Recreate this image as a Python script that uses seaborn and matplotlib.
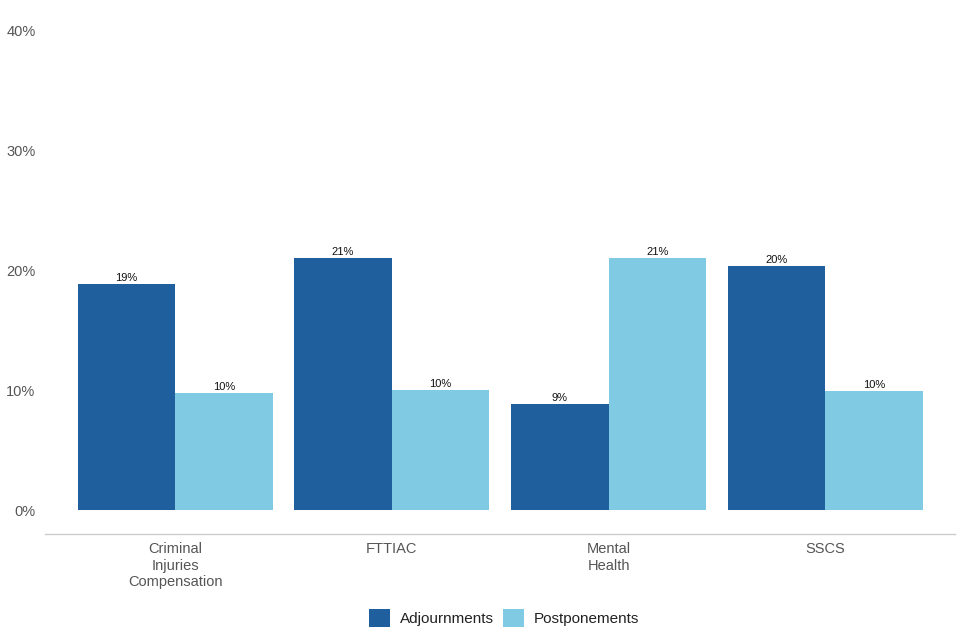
import pandas as pd
import numpy as np
import matplotlib.pyplot as plt
import seaborn as sns

# Values (percent)
categories = ['Criminal\nInjuries\nCompensation', 'FTTIAC', 'Mental\nHealth', 'SSCS']
adjournments = [18.8, 21.0, 8.8, 20.3]
postponements = [9.75, 10.0, 21.0, 9.9]
series = ['Adjournments', 'Postponements']
colors = ['#1F5F9E', '#80CAE3']

df = pd.DataFrame({
    'category': categories * 2,
    'value': adjournments + postponements,
    'series': [series[0]] * 4 + [series[1]] * 4,
})

sns.set_theme(style='white')
plt.rcParams['font.family'] = ['Liberation Sans', 'DejaVu Sans']

fig = plt.figure(figsize=(9.6, 6.4), dpi=100)
ax = fig.add_axes([0.047, 0.1656, 0.948, 0.7875])

sns.barplot(data=df, x='category', y='value', hue='series', palette=colors,
            width=0.9, gap=0, saturation=1, ax=ax, errorbar=None, linewidth=0)

# Bar labels
for cont in ax.containers:
    labels = [f'{round(b.get_height()):.0f}%' for b in cont]
    ax.bar_label(cont, labels=labels, padding=1, fontsize=8, color='#111111')

ax.set_ylim(-2, 40)
ax.set_xlim(-0.6, 3.6)
ax.set_yticks([0, 10, 20, 30, 40])
ax.set_yticklabels(['0%', '10%', '20%', '30%', '40%'])
ax.tick_params(axis='y', length=0, pad=7, labelsize=10.5, labelcolor='#555555')
ax.tick_params(axis='x', length=0, pad=6, labelsize=10.5, labelcolor='#555555')
ax.set_xlabel('')
ax.set_ylabel('')

for s in ['top', 'right', 'left']:
    ax.spines[s].set_visible(False)
ax.spines['bottom'].set_color('#cccccc')
ax.spines['bottom'].set_linewidth(1)

ax.legend(loc='upper center', bbox_to_anchor=(0.504, -0.122), ncol=2, frameon=False,
          fontsize=11, handlelength=1.4, handleheight=1.4, handletextpad=0.6,
          columnspacing=0.6, labelcolor='#222222')

fig.savefig('out.png', dpi=100)
